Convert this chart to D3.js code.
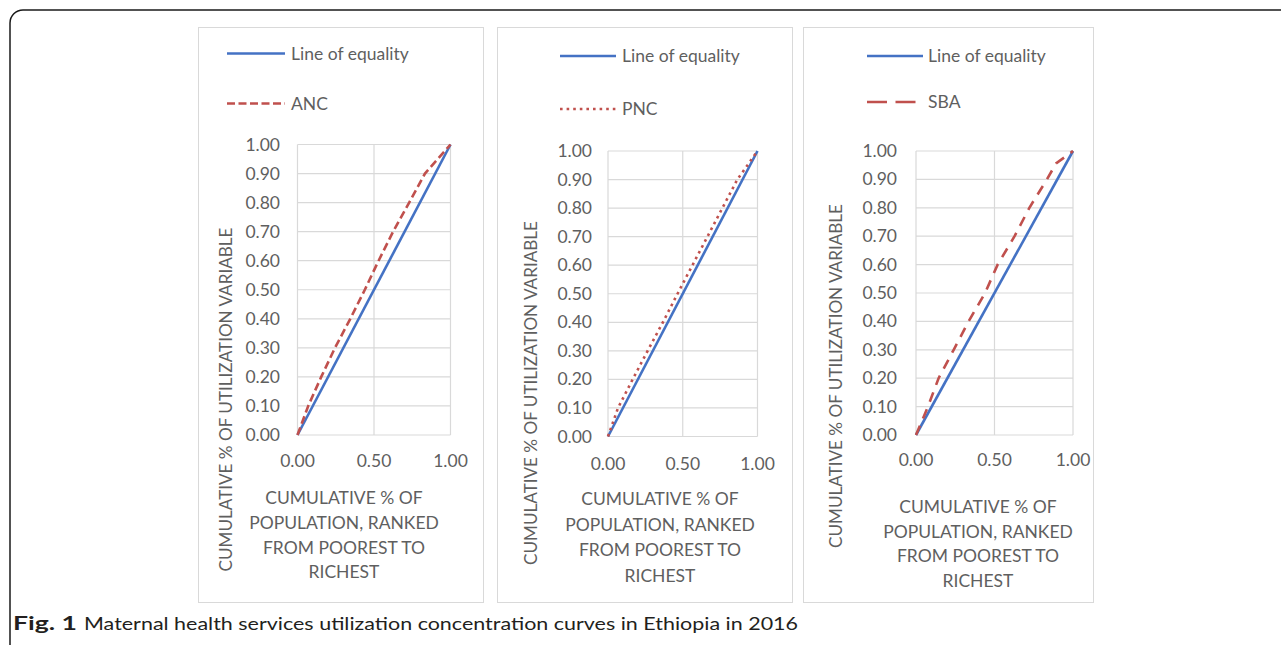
<!DOCTYPE html>
<html>
<head>
<meta charset="utf-8">
<script src="https://cdn.jsdelivr.net/npm/d3@7"></script>
<style>
  html, body { margin: 0; padding: 0; background: #fff; }
  svg { display: block; }
  text { font-family: Lato, "Open Sans", sans-serif; fill: #5f5f5f; }
</style>
</head>
<body>
<svg id="chart" width="1281" height="645"></svg>
<script>
// ---------------- DATA ----------------
const xTickValues = [0, 0.5, 1];
const xTickLabels = ["0.00", "0.50", "1.00"];
const yTickValues = [0, 0.1, 0.2, 0.3, 0.4, 0.5, 0.6, 0.7, 0.8, 0.9, 1.0];
const yTickLabels = ["0.00", "0.10", "0.20", "0.30", "0.40", "0.50", "0.60", "0.70", "0.80", "0.90", "1.00"];

const equalityName = "Line of equality";
const equalityX = [0, 1];
const equalityY = [0, 1];

const seriesNames = ["ANC", "PNC", "SBA"];
const ancX = [0, 0.07, 0.155, 0.245, 0.345, 0.44, 0.53, 0.625, 0.73, 0.833, 1];
const ancY = [0, 0.10, 0.20, 0.30, 0.40, 0.50, 0.60, 0.70, 0.80, 0.90, 1];
const pncX = [0, 0.067, 0.165, 0.265, 0.367, 0.465, 0.565, 0.665, 0.765, 0.865, 1];
const pncY = [0, 0.10, 0.20, 0.30, 0.40, 0.50, 0.60, 0.70, 0.80, 0.90, 1];
const sbaX = [0, 0.076, 0.144, 0.24, 0.335, 0.44, 0.52, 0.628, 0.722, 0.834, 0.892, 1];
const sbaY = [0, 0.10, 0.20, 0.30, 0.40, 0.50, 0.60, 0.70, 0.80, 0.90, 0.956, 1];

const yTitleText = "CUMULATIVE % OF UTILIZATION VARIABLE";
const xTitleLines = ["CUMULATIVE % OF", "POPULATION, RANKED", "FROM POOREST TO", "RICHEST"];
const captionBold = "Fig. 1";
const captionText = "Maternal health services utilization concentration curves in Ethiopia in 2016";

// ---------------- LAYOUT / STYLE ----------------
const BLUE = "#4472C4", RED = "#C0504D", GRID = "#D9D9D9";

const panels = [
  { name: seriesNames[0], xs: ancX, ys: ancY,
    box: [198, 27, 285, 575], plot: [297.5, 450.5, 435, 144.5],
    yTickRight: 280, xTickBase: 467,
    yTitle: [232, 399.5], xTitle: [344, [504, 529, 553.5, 578]],
    legend: { l0: 227, l1: 285, tx: 291, y1: 53.5, b1: 60, y2: 103.5, b2: 109.5 },
    dash: "8,4", legendDash: "8,3.5" },
  { name: seriesNames[1], xs: pncX, ys: pncY,
    box: [497, 27, 295, 575], plot: [608, 757.5, 436.5, 151],
    yTickRight: 592, xTickBase: 470,
    yTitle: [537, 393], xTitle: [660, [505, 530.5, 556, 581.5]],
    legend: { l0: 560, l1: 616, tx: 622, y1: 56, b1: 61.5, y2: 109, b2: 114.5 },
    dash: "2.6,4", legendDash: "2.6,4" },
  { name: seriesNames[2], xs: sbaX, ys: sbaY,
    box: [803, 27, 290, 575], plot: [916, 1073, 435, 151],
    yTickRight: 897, xTickBase: 466,
    yTitle: [842, 376], xTitle: [978, [513, 538, 562, 587]],
    legend: { l0: 867, l1: 923, tx: 928, y1: 56, b1: 62, y2: 102, b2: 107.5 },
    dash: "10,8", legendDash: "20,8.5" }
];

const svg = d3.select("#chart");

// outer rounded frame
svg.append("rect")
  .attr("x", 10).attr("y", 10).attr("width", 1300).attr("height", 680)
  .attr("rx", 13).attr("fill", "none").attr("stroke", "#1a1a1a").attr("stroke-width", 1.5);

panels.forEach(p => {
  const g = svg.append("g");
  g.append("rect")
    .attr("x", p.box[0] + 0.5).attr("y", p.box[1] + 0.5)
    .attr("width", p.box[2]).attr("height", p.box[3])
    .attr("fill", "#fff").attr("stroke", GRID).attr("stroke-width", 1);

  const x = d3.scaleLinear().domain([0, 1]).range([p.plot[0], p.plot[1]]);
  const y = d3.scaleLinear().domain([0, 1]).range([p.plot[2], p.plot[3]]);

  g.append("g").selectAll("line").data(yTickValues).join("line")
    .attr("x1", x(0)).attr("x2", x(1))
    .attr("y1", d => y(d)).attr("y2", d => y(d))
    .attr("stroke", GRID).attr("stroke-width", 1.2);
  g.append("g").selectAll("line").data(xTickValues).join("line")
    .attr("x1", d => x(d)).attr("x2", d => x(d))
    .attr("y1", y(0)).attr("y2", y(1))
    .attr("stroke", GRID).attr("stroke-width", 1.2);

  g.append("g").selectAll("text").data(yTickValues).join("text")
    .attr("x", p.yTickRight).attr("y", d => y(d) + 6)
    .attr("text-anchor", "end").attr("font-size", 17.5)
    .text((d, i) => yTickLabels[i]);
  g.append("g").selectAll("text").data(xTickValues).join("text")
    .attr("x", d => x(d)).attr("y", p.xTickBase)
    .attr("text-anchor", "middle").attr("font-size", 17.5)
    .text((d, i) => xTickLabels[i]);

  g.append("text")
    .attr("transform", `translate(${p.yTitle[0]},${p.yTitle[1]}) rotate(-90)`)
    .attr("text-anchor", "middle").attr("font-size", 17.5)
    .attr("textLength", 344).attr("lengthAdjust", "spacingAndGlyphs")
    .text(yTitleText);

  g.append("g").selectAll("text").data(xTitleLines).join("text")
    .attr("x", p.xTitle[0]).attr("y", (d, i) => p.xTitle[1][i])
    .attr("text-anchor", "middle").attr("font-size", 17.5)
    .text(d => d);

  const line = d3.line().x(d => x(d[0])).y(d => y(d[1]));
  const eqData = equalityX.map((v, i) => [v, equalityY[i]]);
  const serData = p.xs.map((v, i) => [v, p.ys[i]]);

  g.append("path").datum(eqData).attr("d", line)
    .attr("fill", "none").attr("stroke", BLUE).attr("stroke-width", 2.6);
  g.append("path").datum(serData).attr("d", line)
    .attr("fill", "none").attr("stroke", RED).attr("stroke-width", 2.6)
    .attr("stroke-dasharray", p.dash);

  const L = p.legend;
  g.append("line").attr("x1", L.l0).attr("x2", L.l1).attr("y1", L.y1).attr("y2", L.y1)
    .attr("stroke", BLUE).attr("stroke-width", 2.6);
  g.append("text").attr("x", L.tx).attr("y", L.b1).attr("font-size", 17.5).text(equalityName);
  g.append("line").attr("x1", L.l0).attr("x2", L.l1).attr("y1", L.y2).attr("y2", L.y2)
    .attr("stroke", RED).attr("stroke-width", 2.6).attr("stroke-dasharray", p.legendDash);
  g.append("text").attr("x", L.tx).attr("y", L.b2).attr("font-size", 17.5).text(p.name);
});

svg.append("text").attr("x", 13).attr("y", 630)
  .attr("font-size", 18).attr("font-weight", "bold").style("fill", "#231f20")
  .attr("textLength", 64).attr("lengthAdjust", "spacingAndGlyphs")
  .text(captionBold);
svg.append("text").attr("x", 84).attr("y", 630)
  .attr("font-size", 18).style("fill", "#231f20")
  .attr("textLength", 714).attr("lengthAdjust", "spacingAndGlyphs")
  .text(captionText);
</script>
</body>
</html>
